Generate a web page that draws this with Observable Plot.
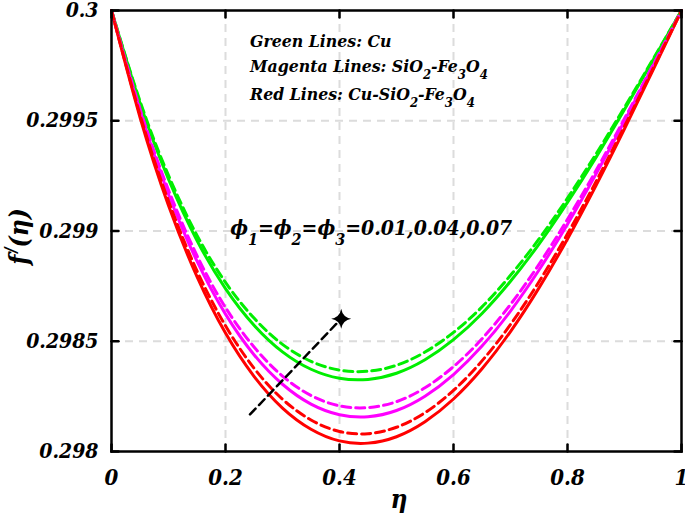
<!DOCTYPE html>
<html>
<head>
<meta charset="utf-8">
<script src="https://cdn.jsdelivr.net/npm/d3@7"></script>
<script src="https://cdn.jsdelivr.net/npm/@observablehq/plot@0.6"></script>
<style>
  html, body { margin: 0; padding: 0; background: #fff; }
  svg { display: block; }
  svg text { font-family: "DejaVu Serif Condensed", "DejaVu Serif", serif !important; font-stretch: condensed; font-weight: bold; font-style: italic; fill: #000; }
</style>
</head>
<body>
<div id="chart"></div>
<script>
// ---- data ----
const eta = [0, 0.05, 0.1, 0.15, 0.2, 0.25, 0.3, 0.35, 0.4, 0.45, 0.5, 0.55, 0.6, 0.65, 0.7, 0.75, 0.8, 0.85, 0.9, 0.95, 1];

const greenSolid    = [0.3, 0.29958, 0.299235, 0.298957, 0.298739, 0.298573, 0.298452, 0.298373, 0.298332, 0.298327, 0.298355, 0.298416, 0.298507, 0.298626, 0.298772, 0.298941, 0.29913, 0.299334, 0.299551, 0.299774, 0.3];
const greenDashed   = [0.3, 0.299589, 0.299252, 0.29898, 0.298767, 0.298605, 0.298486, 0.298409, 0.298369, 0.298364, 0.298391, 0.298451, 0.29854, 0.298656, 0.298799, 0.298964, 0.299149, 0.299349, 0.299561, 0.299779, 0.3];
const magentaSolid  = [0.3, 0.299544, 0.299167, 0.298863, 0.298623, 0.298439, 0.298305, 0.298215, 0.298167, 0.298158, 0.298186, 0.298251, 0.298349, 0.298478, 0.298637, 0.298823, 0.299031, 0.299258, 0.299499, 0.299748, 0.3];
const magentaDashed = [0.3, 0.299554, 0.299186, 0.298888, 0.298653, 0.298474, 0.298342, 0.298254, 0.298207, 0.298199, 0.298226, 0.298289, 0.298385, 0.298511, 0.298667, 0.298849, 0.299053, 0.299274, 0.29951, 0.299753, 0.3];
const redSolid      = [0.3, 0.299516, 0.299116, 0.298793, 0.298537, 0.298341, 0.298197, 0.298101, 0.298048, 0.298038, 0.298067, 0.298135, 0.298238, 0.298375, 0.298544, 0.298742, 0.298964, 0.299206, 0.299463, 0.29973, 0.3];
const redDashed     = [0.3, 0.299527, 0.299136, 0.298819, 0.29857, 0.298378, 0.298237, 0.298143, 0.298091, 0.298081, 0.29811, 0.298176, 0.298277, 0.298411, 0.298576, 0.29877, 0.298987, 0.299224, 0.299475, 0.299736, 0.3];

const xTicks = [0, 0.2, 0.4, 0.6, 0.8, 1];
const xTickLabels = ["0", "0.2", "0.4", "0.6", "0.8", "1"];
const yTicks = [0.298, 0.2985, 0.299, 0.2995, 0.3];
const yTickLabels = ["0.298", "0.2985", "0.299", "0.2995", "0.3"];
const xGridTicks = [0.2, 0.4, 0.6, 0.8];
const yGridTicks = [0.2985, 0.299, 0.2995];

// arrow (trend indicator)
const arrowEta = [0.243, 0.403];
const arrowF = [0.298168, 0.298602];

// annotation anchors (data coordinates)
const legendEta = 0.244;
const legendF = [0.299834, 0.29972, 0.299594];
const phiEta = 0.209;
const phiF = 0.29898;

// ---- build table ----
const series = [
  {values: greenSolid, color: "#00ee00", dashed: false},
  {values: greenDashed, color: "#00ee00", dashed: true},
  {values: magentaSolid, color: "#ff00ff", dashed: false},
  {values: magentaDashed, color: "#ff00ff", dashed: true},
  {values: redSolid, color: "#ff0000", dashed: false},
  {values: redDashed, color: "#ff0000", dashed: true}
];
const rows = series.flatMap((s, i) => eta.map((e, j) => ({eta: e, f: s.values[j], series: i, color: s.color, dashed: s.dashed})));
const arrowRows = arrowEta.map((e, i) => ({eta: e, f: arrowF[i]}));

const font = "'DejaVu Serif Condensed', 'DejaVu Serif', serif";

const star4 = {
  draw(ctx, size) {
    const r = Math.sqrt(size / Math.PI);
    const k = r * 0.15;
    ctx.moveTo(0, -r);
    ctx.quadraticCurveTo(k, -k, r, 0);
    ctx.quadraticCurveTo(k, k, 0, r);
    ctx.quadraticCurveTo(-k, k, -r, 0);
    ctx.quadraticCurveTo(-k, -k, 0, -r);
    ctx.closePath();
  }
};
const tickShape = {
  draw(ctx, l) { ctx.moveTo(0, 0); ctx.lineTo(0, -l); }
};

const chart = Plot.plot({
  width: 685,
  height: 516,
  marginLeft: 111,
  marginRight: 4,
  marginTop: 10,
  marginBottom: 65,
  style: {fontFamily: font, background: "#fff"},
  x: {domain: [0, 1]},
  y: {domain: [0.298, 0.3]},
  marks: [
    Plot.gridX(xGridTicks, {stroke: "#dcdcdc", strokeOpacity: 1, strokeWidth: 2, strokeDasharray: "8,6"}),
    Plot.gridY(yGridTicks, {stroke: "#dcdcdc", strokeOpacity: 1, strokeWidth: 2, strokeDasharray: "8,6"}),
    Plot.line(rows.filter(d => !d.dashed), {x: "eta", y: "f", z: "series", stroke: "color", strokeWidth: 3, curve: "natural"}),
    Plot.line(rows.filter(d => d.dashed), {x: "eta", y: "f", z: "series", stroke: "color", strokeWidth: 3, strokeDasharray: "9,5", curve: "natural"}),
    Plot.line(arrowRows, {x: "eta", y: "f", stroke: "black", strokeWidth: 2.5, strokeDasharray: "8,5"}),
    Plot.dot(arrowRows.slice(1), {x: "eta", y: "f", r: 10, symbol: star4, fill: "black", stroke: "none"}),
    Plot.frame({stroke: "black", strokeWidth: 2.5}),
    // inward ticks on all four sides
    Plot.vector(xTicks, {x: d => d, y: 0.298, length: 7, rotate: 0, anchor: "start", shape: tickShape, stroke: "black", strokeWidth: 2.5}),
    Plot.vector(xTicks, {x: d => d, y: 0.3, length: 7, rotate: 180, anchor: "start", shape: tickShape, stroke: "black", strokeWidth: 2.5}),
    Plot.vector(yTicks, {x: 0, y: d => d, length: 7, rotate: 90, anchor: "start", shape: tickShape, stroke: "black", strokeWidth: 2.5}),
    Plot.vector(yTicks, {x: 1, y: d => d, length: 7, rotate: 270, anchor: "start", shape: tickShape, stroke: "black", strokeWidth: 2.5}),
    Plot.axisX(xTicks, {tickSize: 0, tickPadding: 18, tickFormat: (d) => xTickLabels[xTicks.indexOf(d)], fontSize: 22, fontWeight: "bold", fontStyle: "italic", fill: "black", label: null}),
    Plot.axisY(yTicks, {tickSize: 0, tickPadding: 13, tickFormat: (d) => yTickLabels[yTicks.indexOf(d)], fontSize: 21, fontWeight: "bold", fontStyle: "italic", fill: "black", label: null})
  ]
});

document.getElementById("chart").appendChild(chart);

// ---- rich-text annotations ----
const sx = chart.scale("x"), sy = chart.scale("y");
const svg = d3.select(chart);

function rich(x, y, parts, size, subSize, subDy) {
  const t = svg.append("text")
    .attr("x", x).attr("y", y)
    .attr("text-anchor", "start")
    .attr("font-size", size);
  let low = false;
  for (const [txt, sub] of parts) {
    const ts = t.append("tspan").text(txt);
    if (sub) {
      ts.attr("font-size", subSize);
      if (!low) { ts.attr("dy", subDy); low = true; }
    } else if (low) { ts.attr("dy", -subDy); low = false; }
  }
  return t;
}

rich(sx.apply(legendEta), sy.apply(legendF[0]), [["Green Lines: Cu", 0]], 17.5, 13, 7);
rich(sx.apply(legendEta), sy.apply(legendF[1]), [["Magenta Lines: SiO", 0], ["2", 1], ["-Fe", 0], ["3", 1], ["O", 0], ["4", 1]], 17.5, 13, 7);
rich(sx.apply(legendEta), sy.apply(legendF[2]), [["Red Lines: Cu-SiO", 0], ["2", 1], ["-Fe", 0], ["3", 1], ["O", 0], ["4", 1]], 17.5, 13, 7);

rich(sx.apply(phiEta), sy.apply(phiF), [["ϕ", 0], ["1", 1], ["=ϕ", 0], ["2", 1], ["=ϕ", 0], ["3", 1], ["=0.01,0.04,0.07", 0]], 21, 16, 10);

// axis titles
const cx = (sx.range[0] + sx.range[1]) / 2;
svg.append("text")
  .attr("x", cx + 3).attr("y", 508)
  .attr("text-anchor", "middle")
  .attr("font-size", 26)
  .text("η");

const cy = (sy.range[0] + sy.range[1]) / 2;
const yl = svg.append("text")
  .attr("transform", `translate(28,${cy + 6}) rotate(-90)`)
  .attr("text-anchor", "middle")
  .attr("font-size", 26);
yl.append("tspan").text("f");
yl.append("tspan").attr("dy", -12).attr("dx", 2).attr("font-size", 16).text("/");
yl.append("tspan").attr("dy", 12).text("(η)");
</script>
</body>
</html>
